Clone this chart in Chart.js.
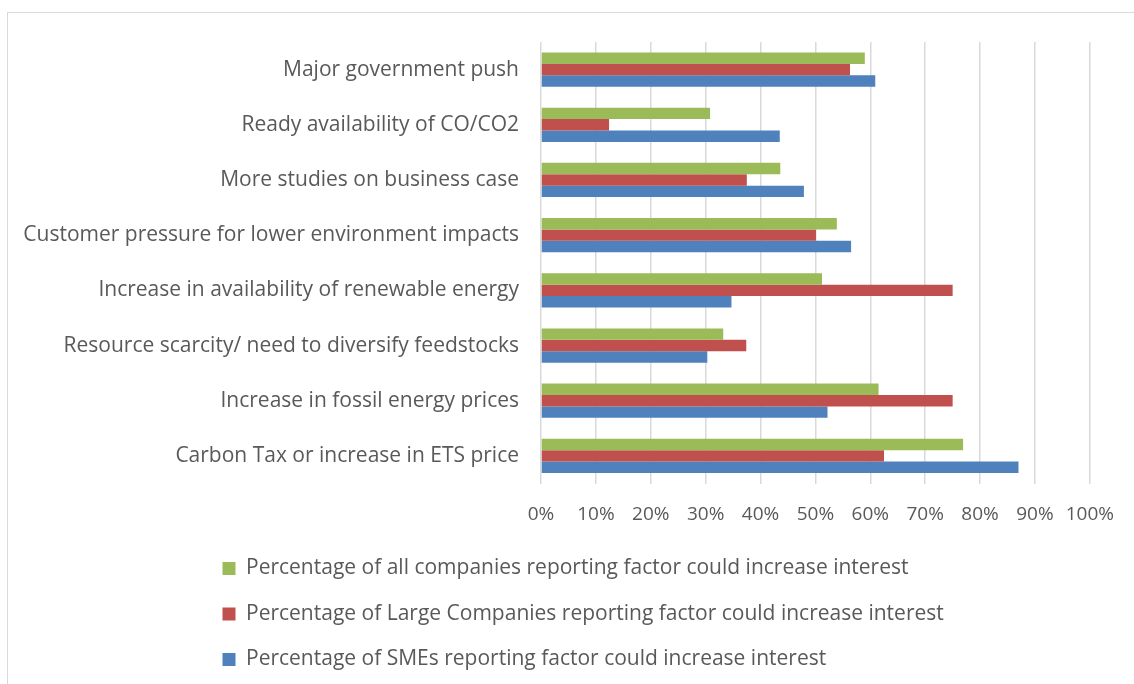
<!DOCTYPE html>
<html>
<head>
<meta charset="utf-8">
<script src="https://cdn.jsdelivr.net/npm/chart.js@4"></script>
<style>
  html, body { margin: 0; padding: 0; background: #fff; overflow: hidden; }
  .frame { position: absolute; left: 7px; top: 12px; width: 1140px; height: 700px; border: 1px solid #d9d9d9; box-sizing: border-box; }
  .wrap { position: absolute; left: 0; top: 0; width: 1134px; height: 684px; }
</style>
</head>
<body>
<div class="frame"></div>
<div class="wrap"><canvas id="chart" width="1134" height="684"></canvas></div>
<script>
// factors, top to bottom as in the picture
const categories = [
  'Major government push',
  'Ready availability of CO/CO2',
  'More studies on business case',
  'Customer pressure for lower environment impacts',
  'Increase in availability of renewable energy',
  'Resource scarcity/ need to diversify feedstocks',
  'Increase in fossil energy prices',
  'Carbon Tax or increase in ETS price'
];
const allCompanies = [59.0, 30.8, 43.6, 53.9, 51.2, 33.2, 61.5, 76.9];
const largeCompanies = [56.3, 12.4, 37.5, 50.1, 75.0, 37.4, 75.0, 62.5];
const smes = [60.9, 43.5, 47.9, 56.5, 34.7, 30.3, 52.2, 87.0];
const seriesNames = [
  'Percentage of all companies reporting factor could increase interest',
  'Percentage of Large Companies reporting factor could increase interest',
  'Percentage of SMEs reporting factor could increase interest'
];
const xTicks = [0, 10, 20, 30, 40, 50, 60, 70, 80, 90, 100];

const textColor = '#595959';
const labelFont = { family: 'Open Sans', size: 21 };
const tickFont = { family: 'Open Sans', size: 19 };

// legend sits left-aligned under the plot, not at the canvas edge
const shiftLegend = {
  id: 'shiftLegend',
  afterLayout: function (chart) {
    chart.legend.left = 198;
  }
};

const ctx = document.getElementById('chart').getContext('2d');
new Chart(ctx, {
  type: 'bar',
  data: {
    labels: categories,
    datasets: [
      { label: seriesNames[0], data: allCompanies, backgroundColor: '#9bbb59' },
      { label: seriesNames[1], data: largeCompanies, backgroundColor: '#c0504d' },
      { label: seriesNames[2], data: smes, backgroundColor: '#4f81bd' }
    ]
  },
  plugins: [shiftLegend],
  options: {
    indexAxis: 'y',
    responsive: false,
    animation: false,
    categoryPercentage: 0.62,
    barPercentage: 1.0,
    layout: { padding: { left: 10, right: 44, top: 42, bottom: 4 } },
    scales: {
      x: {
        min: 0,
        max: 100,
        afterBuildTicks: function (scale) {
          scale.ticks = xTicks.map(function (v) { return { value: v }; });
        },
        afterFit: function (scale) { scale.height = 50; },
        ticks: {
          color: textColor,
          font: tickFont,
          padding: 20,
          maxRotation: 0,
          callback: function (v) { return v + '%'; }
        },
        grid: { color: '#d9d9d9', lineWidth: 1.5, drawTicks: false },
        border: { display: false }
      },
      y: {
        afterFit: function (scale) { scale.width = 541 - 10; },
        ticks: { color: textColor, font: labelFont, padding: 22 },
        grid: { display: false, drawTicks: false },
        border: { display: false }
      }
    },
    plugins: {
      legend: {
        position: 'bottom',
        align: 'start',
        labels: {
          color: textColor,
          font: labelFont,
          boxWidth: 13,
          boxHeight: 13,
          padding: 24.5
        }
      },
      tooltip: { enabled: false }
    }
  }
});
</script>
</body>
</html>
